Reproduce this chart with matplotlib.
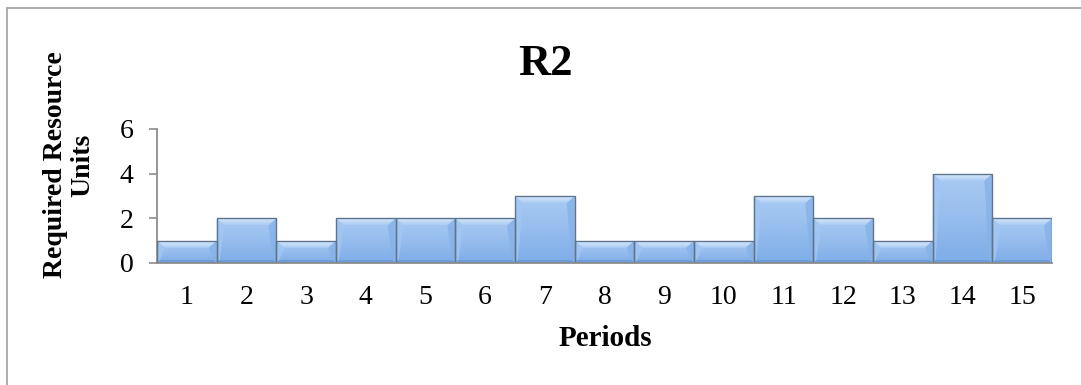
import numpy as np
import matplotlib
matplotlib.use("Agg")
import matplotlib.pyplot as plt
from matplotlib.patches import Polygon, Rectangle
from matplotlib.lines import Line2D
from matplotlib.colors import LinearSegmentedColormap

# Resource R2 requirement per period
periods = [str(p) for p in range(1, 16)]
units = [1, 2, 1, 2, 2, 2, 3, 1, 1, 1, 3, 2, 1, 4, 2]
y_ticks = [0, 2, 4, 6]

title = "R2"
x_label = "Periods"
y_label = "Required Resource\nUnits"

plt.rcParams["font.family"] = ["Liberation Serif", "DejaVu Serif"]

W, H, DPI = 1081, 385, 100
fig = plt.figure(figsize=(W / DPI, H / DPI), dpi=DPI)

ax_l, ax_r, ax_b, ax_t = 157, 1052, 263, 129
ax = fig.add_axes([ax_l / W, 1 - ax_b / H, (ax_r - ax_l) / W, (ax_b - ax_t) / H])

n = len(units)
xs = np.arange(1, n + 1)
ax.set_xlim(0.5, n + 0.5)
ax.set_ylim(0, 6)

# pixel -> data conversions for the bevel
px_x = n / (ax_r - ax_l)
px_y = 6 / (ax_b - ax_t)
bev_top = 7 * px_y
bev_corner = 8 * px_x
bev_side = 3 * px_x
bev_bot = 3 * px_y

face_cmap = LinearSegmentedColormap.from_list("face", ["#7EADE8", "#96BDEE", "#A9CBF2"])
top_cmap = LinearSegmentedColormap.from_list("top", ["#AACCF4", "#D8E8FB"])
grad = np.linspace(0, 1, 64).reshape(-1, 1)

edge = "#5E7590"
for x, v in zip(xs, units):
    x0, x1 = x - 0.5, x + 0.5
    # main face
    im = ax.imshow(grad, cmap=face_cmap, aspect="auto", origin="lower",
                   extent=[x0, x1, 0, v], zorder=2, interpolation="bilinear")
    im.set_clip_path(Rectangle((x0, 0), 1, v, transform=ax.transData))
    # side bevels (subtle)
    ax.add_patch(Polygon([(x0, v), (x0 + bev_corner, v - bev_top), (x0 + bev_side, bev_bot), (x0, 0)],
                         closed=True, facecolor="#A3C7F2", edgecolor="none", zorder=3, alpha=0.8))
    ax.add_patch(Polygon([(x1, v), (x1 - bev_corner, v - bev_top), (x1 - bev_side, bev_bot), (x1, 0)],
                         closed=True, facecolor="#86B2E8", edgecolor="none", zorder=3, alpha=0.8))
    # bottom bevel
    ax.add_patch(Polygon([(x0, 0), (x1, 0), (x1 - bev_side, bev_bot), (x0 + bev_side, bev_bot)],
                         closed=True, facecolor="#6E9CD8", edgecolor="none", zorder=3))
    # top bevel
    top = Polygon([(x0, v), (x1, v), (x1 - bev_corner, v - bev_top), (x0 + bev_corner, v - bev_top)],
                  closed=True, transform=ax.transData)
    imt = ax.imshow(grad, cmap=top_cmap, aspect="auto", origin="lower",
                    extent=[x0, x1, v - bev_top, v], zorder=3.5, interpolation="bilinear")
    imt.set_clip_path(top)
    # outline
    ax.add_patch(Rectangle((x0, 0), 1, v, facecolor="none", edgecolor=edge, linewidth=1.0, zorder=4))

for s in ["top", "right"]:
    ax.spines[s].set_visible(False)
for s in ["left", "bottom"]:
    ax.spines[s].set_color("#8C8C8C")
    ax.spines[s].set_linewidth(1.3)
ax.spines["bottom"].set_zorder(5)

ax.set_yticks(y_ticks)
ax.set_yticklabels([str(t) for t in y_ticks])
ax.set_xticks(xs)
ax.set_xticklabels(periods)
ax.tick_params(axis="y", length=6, width=1.2, color="#8C8C8C", labelsize=20, pad=11)
ax.tick_params(axis="x", length=0, labelsize=20, pad=16)
ax.set_facecolor("none")

fig.text(545 / W, 1 - 64 / H, title, ha="center", va="center", fontsize=32, fontweight="bold")
fig.text(605 / W, 1 - 339 / H, x_label, ha="center", va="center", fontsize=21, fontweight="bold")
fig.text(69 / W, 1 - 165 / H, y_label, ha="center", va="center", rotation=90,
         fontsize=20, fontweight="bold", linespacing=1.15)

# chart frame
fig.add_artist(Line2D([6.5 / W, 6.5 / W], [0, 1 - 7.5 / H], transform=fig.transFigure,
                      color="#A6A6A6", linewidth=1.3))
fig.add_artist(Line2D([6.5 / W, 1], [1 - 7.5 / H, 1 - 7.5 / H], transform=fig.transFigure,
                      color="#A6A6A6", linewidth=1.3))

fig.savefig("out.png", dpi=DPI, facecolor="white")
